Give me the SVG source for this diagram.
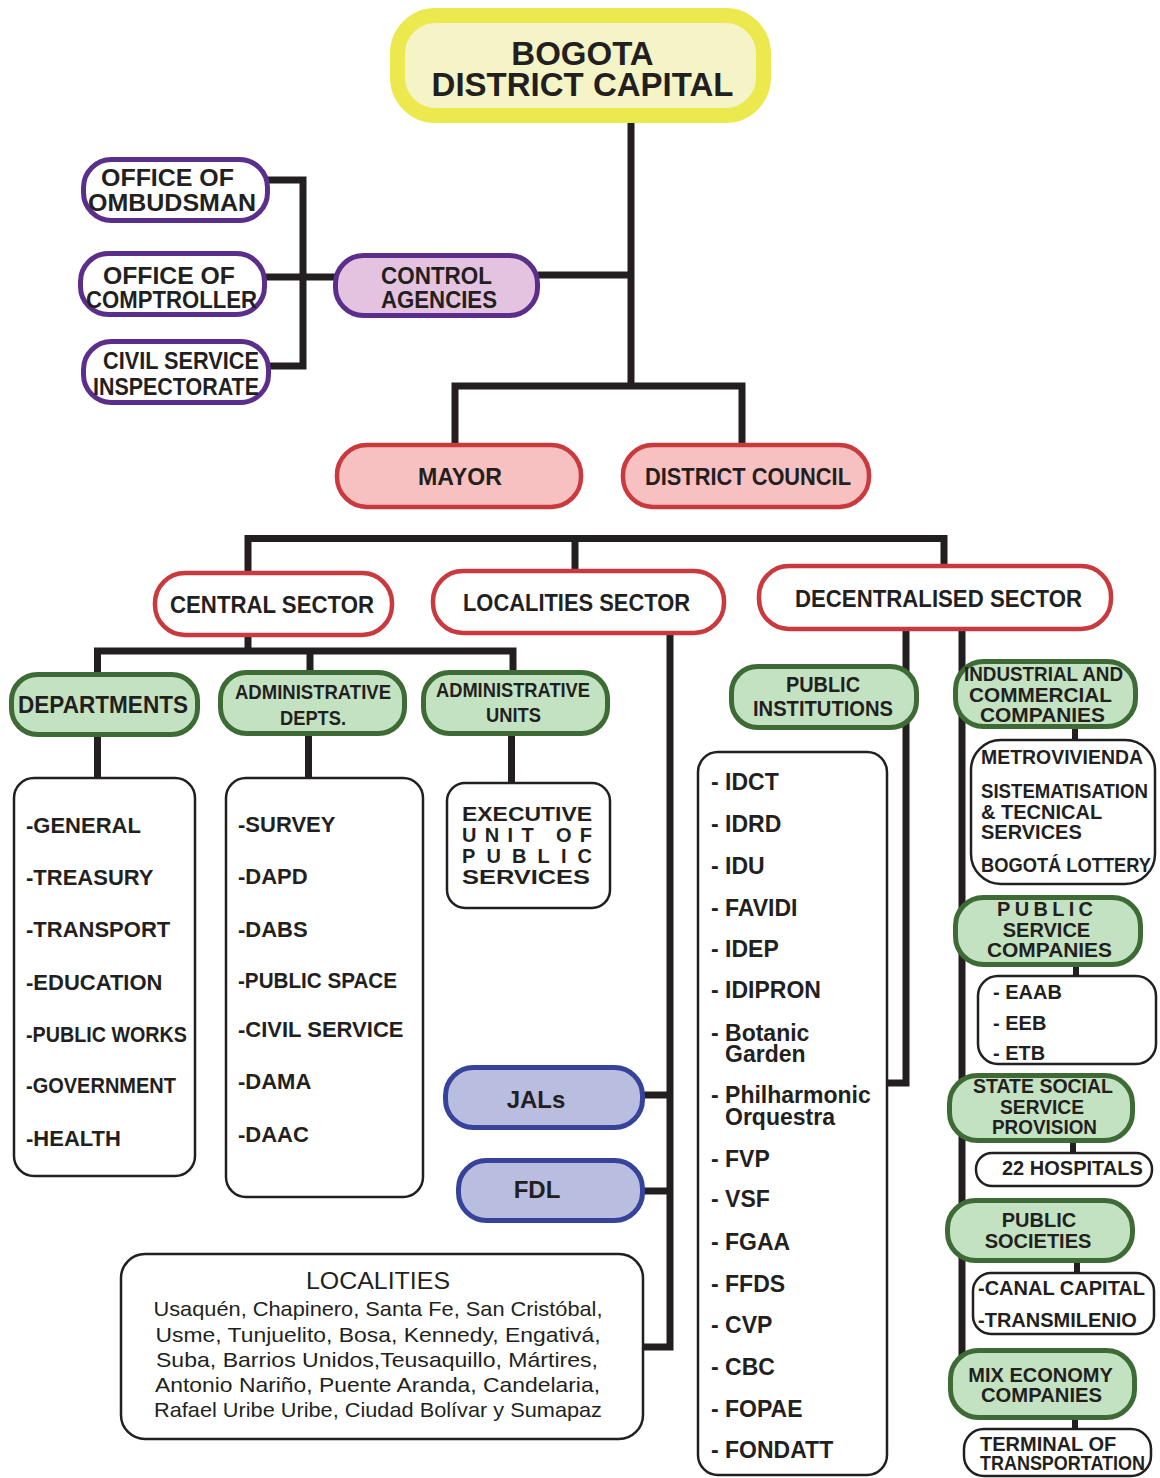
<svg xmlns="http://www.w3.org/2000/svg" width="1160" height="1478" viewBox="0 0 1160 1478">
<style>
text{font-family:"Liberation Sans",Arial,sans-serif;font-weight:bold;fill:#231f20}
.c{text-anchor:middle}
.f24{font-size:24px}
.f22{font-size:22px}
.f20{font-size:20px}
.f23{font-size:23px}
.reg{font-weight:normal}
.ln{fill:none;stroke:#231f20;stroke-width:7;stroke-linejoin:miter}
.st{fill:none;stroke:#231f20;stroke-width:6}
.yel{fill:#f4f4c6;stroke:#ece94e;stroke-width:15}
.pur{fill:#ffffff;stroke:#5b2e8c;stroke-width:5}
.purf{fill:#e3c3df;stroke:#5b2e8c;stroke-width:5}
.red{fill:#f8c1c1;stroke:#c9393e;stroke-width:4.5}
.redw{fill:#ffffff;stroke:#c9393e;stroke-width:4.5}
.grn{fill:#c3e2c1;stroke:#3e6a36;stroke-width:5}
.blu{fill:#b9bde0;stroke:#37439b;stroke-width:5}
.lst{fill:#ffffff;stroke:#231f20;stroke-width:2.5}
</style>

<g id="connectors">
  <path class="ln" d="M631 120 V386"/>
  <path class="ln" d="M455 447 V386 H742 V447"/>
  <path class="ln" d="M538 275 H631"/>
  <path class="ln" d="M267 180 H303 V366 H268"/>
  <path class="ln" d="M264 277 H338"/>
  <path class="ln" d="M248 575 V538.5 H944 V568"/>
  <path class="ln" d="M575 538.5 V573"/>
  <path class="ln" d="M248 635 V651"/>
  <path class="ln" d="M97.5 676 V651 H513 V674"/>
  <path class="ln" d="M310 651 V674"/>
  <path class="ln" d="M97.5 735 V779"/>
  <path class="ln" d="M308.5 734 V779"/>
  <path class="ln" d="M511.5 734 V784"/>
  <path class="ln" d="M670 633 V1347 H641"/>
  <path class="ln" d="M641 1095 H670"/>
  <path class="ln" d="M641 1191 H670"/>
  <path class="ln" d="M906 629 V1083 H886"/>
  <path class="ln" d="M962 629 V1385"/>
  <path class="st" d="M1075 727 V741"/>
  <path class="st" d="M1076 965 V977"/>
  <path class="st" d="M1073 1141 V1154"/>
  <path class="st" d="M1077 1261 V1274"/>
  <path class="st" d="M1075 1418 V1430"/>
</g>

<g id="bogota">
  <rect class="yel" x="397.5" y="15.5" width="366" height="100" rx="38"/>
  <text class="c" x="582.5" y="65" font-size="33">BOGOTA</text>
  <text class="c" x="582.5" y="96" font-size="33">DISTRICT CAPITAL</text>
</g>

<g id="ombudsman">
  <rect class="pur" x="83.5" y="159.5" width="184" height="61" rx="28"/>
  <text class="c f24" x="167.5" y="186" textLength="133" lengthAdjust="spacingAndGlyphs">OFFICE OF</text>
  <text class="c f24" x="172" y="211" textLength="168" lengthAdjust="spacingAndGlyphs">OMBUDSMAN</text>
</g>
<g id="comptroller">
  <rect class="pur" x="80.5" y="253.5" width="184" height="61" rx="28"/>
  <text class="c f24" x="169" y="284" textLength="132" lengthAdjust="spacingAndGlyphs">OFFICE OF</text>
  <text class="c f24" x="171.5" y="308" textLength="171" lengthAdjust="spacingAndGlyphs">COMPTROLLER</text>
</g>
<g id="civil-service">
  <rect class="pur" x="83.5" y="341.5" width="185" height="61" rx="28"/>
  <text class="c f24" x="181" y="369" textLength="156" lengthAdjust="spacingAndGlyphs">CIVIL SERVICE</text>
  <text class="c f24" x="176" y="395" textLength="166" lengthAdjust="spacingAndGlyphs">INSPECTORATE</text>
</g>
<g id="control-agencies">
  <rect class="purf" x="335.5" y="255.5" width="202" height="60" rx="28"/>
  <text class="c f24" x="436.5" y="284" textLength="111" lengthAdjust="spacingAndGlyphs">CONTROL</text>
  <text class="c f24" x="439" y="308" textLength="116" lengthAdjust="spacingAndGlyphs">AGENCIES</text>
</g>

<g id="mayor">
  <rect class="red" x="337" y="445" width="244" height="62" rx="30"/>
  <text class="c f24" x="460" y="485" textLength="84" lengthAdjust="spacingAndGlyphs">MAYOR</text>
</g>
<g id="district-council">
  <rect class="red" x="623" y="445" width="246" height="62" rx="30"/>
  <text class="c f24" x="748" y="485" textLength="206" lengthAdjust="spacingAndGlyphs">DISTRICT COUNCIL</text>
</g>

<g id="central-sector">
  <rect class="redw" x="155" y="573" width="237" height="62" rx="30"/>
  <text class="c f24" x="272" y="613" textLength="204" lengthAdjust="spacingAndGlyphs">CENTRAL SECTOR</text>
</g>
<g id="localities-sector">
  <rect class="redw" x="433" y="571" width="291" height="62" rx="30"/>
  <text class="c f24" x="576.5" y="611" textLength="227" lengthAdjust="spacingAndGlyphs">LOCALITIES SECTOR</text>
</g>
<g id="decentralised-sector">
  <rect class="redw" x="759" y="566" width="352" height="63" rx="30"/>
  <text class="c f24" x="938.5" y="607" textLength="287" lengthAdjust="spacingAndGlyphs">DECENTRALISED SECTOR</text>
</g>

<g id="departments">
  <rect class="grn" x="11.5" y="674.5" width="186" height="60" rx="26"/>
  <text class="c f24" x="103" y="713" textLength="170" lengthAdjust="spacingAndGlyphs">DEPARTMENTS</text>
</g>
<g id="admin-depts">
  <rect class="grn" x="220.5" y="672.5" width="184" height="61" rx="26"/>
  <text class="c f20" x="313" y="699" textLength="156" lengthAdjust="spacingAndGlyphs">ADMINISTRATIVE</text>
  <text class="c f20" x="313" y="725" textLength="66" lengthAdjust="spacingAndGlyphs">DEPTS.</text>
</g>
<g id="admin-units">
  <rect class="grn" x="423.5" y="672.5" width="184" height="61" rx="26"/>
  <text class="c f20" x="513" y="697" textLength="154" lengthAdjust="spacingAndGlyphs">ADMINISTRATIVE</text>
  <text class="c f20" x="513.5" y="722" textLength="55" lengthAdjust="spacingAndGlyphs">UNITS</text>
</g>

<g id="departments-list">
  <rect class="lst" x="14" y="778" width="181" height="398" rx="20"/>
  <text class="f22" x="26" y="833">-GENERAL</text>
  <text class="f22" x="26" y="885">-TREASURY</text>
  <text class="f22" x="26" y="937">-TRANSPORT</text>
  <text class="f22" x="26" y="990">-EDUCATION</text>
  <text class="f22" x="26" y="1042" textLength="161" lengthAdjust="spacingAndGlyphs">-PUBLIC WORKS</text>
  <text class="f22" x="26" y="1093" textLength="150" lengthAdjust="spacingAndGlyphs">-GOVERNMENT</text>
  <text class="f22" x="26" y="1146">-HEALTH</text>
</g>
<g id="admin-depts-list">
  <rect class="lst" x="226" y="778" width="197" height="419" rx="20"/>
  <text class="f22" x="238" y="832">-SURVEY</text>
  <text class="f22" x="238" y="884">-DAPD</text>
  <text class="f22" x="238" y="937">-DABS</text>
  <text class="f22" x="238" y="988" textLength="159" lengthAdjust="spacingAndGlyphs">-PUBLIC SPACE</text>
  <text class="f22" x="238" y="1037">-CIVIL SERVICE</text>
  <text class="f22" x="238" y="1089">-DAMA</text>
  <text class="f22" x="238" y="1142">-DAAC</text>
</g>
<g id="executive-unit">
  <rect class="lst" x="447" y="783" width="163" height="125" rx="18"/>
  <text font-size="20" x="462" y="821" textLength="130" lengthAdjust="spacingAndGlyphs">EXECUTIVE</text>
  <text font-size="20" x="462" y="842" textLength="130" lengthAdjust="spacing">UNIT OF</text>
  <text font-size="20" x="462" y="863" textLength="130" lengthAdjust="spacing">PUBLIC</text>
  <text font-size="20" x="462" y="884" textLength="128" lengthAdjust="spacingAndGlyphs">SERVICES</text>
</g>

<g id="jals">
  <rect class="blu" x="445.5" y="1067.5" width="197" height="60" rx="28"/>
  <text class="c f24" x="536" y="1108">JALs</text>
</g>
<g id="fdl">
  <rect class="blu" x="458.5" y="1160.5" width="184" height="60" rx="28"/>
  <text class="c f24" x="537" y="1198">FDL</text>
</g>
<g id="localities-list">
  <rect class="lst" x="121" y="1254" width="522" height="185" rx="24"/>
  <text class="c reg" font-size="24" x="378" y="1289" textLength="144" lengthAdjust="spacingAndGlyphs">LOCALITIES</text>
  <text class="c reg" font-size="21" x="378" y="1316" textLength="449" lengthAdjust="spacingAndGlyphs">Usaquén, Chapinero, Santa Fe, San Cristóbal,</text>
  <text class="c reg" font-size="21" x="378" y="1342" textLength="445" lengthAdjust="spacingAndGlyphs">Usme, Tunjuelito, Bosa, Kennedy, Engativá,</text>
  <text class="c reg" font-size="21" x="377" y="1367" textLength="442" lengthAdjust="spacingAndGlyphs">Suba, Barrios Unidos,Teusaquillo, Mártires,</text>
  <text class="c reg" font-size="21" x="377.5" y="1392" textLength="445" lengthAdjust="spacingAndGlyphs">Antonio Nariño, Puente Aranda, Candelaria,</text>
  <text class="c reg" font-size="21" x="378" y="1417" textLength="448" lengthAdjust="spacingAndGlyphs">Rafael Uribe Uribe, Ciudad Bolívar y Sumapaz</text>
</g>

<g id="public-institutions">
  <rect class="grn" x="731.5" y="666.5" width="185" height="61" rx="26"/>
  <text class="c f22" x="823" y="692" textLength="74" lengthAdjust="spacingAndGlyphs">PUBLIC</text>
  <text class="c f22" x="823" y="716" textLength="140" lengthAdjust="spacingAndGlyphs">INSTITUTIONS</text>
</g>
<g id="public-institutions-list">
  <rect class="lst" x="698" y="752" width="189" height="723" rx="20"/>
  <text class="f23" x="711" y="790">- IDCT</text>
  <text class="f23" x="711" y="832">- IDRD</text>
  <text class="f23" x="711" y="874">- IDU</text>
  <text class="f23" x="711" y="916">- FAVIDI</text>
  <text class="f23" x="711" y="957">- IDEP</text>
  <text class="f23" x="711" y="998">- IDIPRON</text>
  <text class="f23" x="711" y="1041">- Botanic</text>
  <text class="f23" x="725" y="1062">Garden</text>
  <text class="f23" x="711" y="1103">- Philharmonic</text>
  <text class="f23" x="725" y="1125">Orquestra</text>
  <text class="f23" x="711" y="1167">- FVP</text>
  <text class="f23" x="711" y="1207">- VSF</text>
  <text class="f23" x="711" y="1250">- FGAA</text>
  <text class="f23" x="711" y="1292">- FFDS</text>
  <text class="f23" x="711" y="1333">- CVP</text>
  <text class="f23" x="711" y="1375">- CBC</text>
  <text class="f23" x="711" y="1417">- FOPAE</text>
  <text class="f23" x="711" y="1458">- FONDATT</text>
</g>

<g id="industrial-commercial">
  <rect class="grn" x="955.5" y="661.5" width="180" height="65" rx="28"/>
  <text class="c f20" x="1043.5" y="681" textLength="159" lengthAdjust="spacingAndGlyphs">INDUSTRIAL AND</text>
  <text class="c f20" x="1040.5" y="702" textLength="143" lengthAdjust="spacingAndGlyphs">COMMERCIAL</text>
  <text class="c f20" x="1042.5" y="722" textLength="125" lengthAdjust="spacingAndGlyphs">COMPANIES</text>
</g>
<g id="industrial-list">
  <rect class="lst" x="971" y="740" width="184" height="144" rx="30"/>
  <text class="f20" x="981" y="764" textLength="162" lengthAdjust="spacingAndGlyphs">METROVIVIENDA</text>
  <text class="f20" x="981" y="798" textLength="167" lengthAdjust="spacingAndGlyphs">SISTEMATISATION</text>
  <text class="f20" x="981" y="819">&amp; TECNICAL</text>
  <text class="f20" x="981" y="839">SERVICES</text>
  <text class="f20" x="981" y="872" textLength="170" lengthAdjust="spacingAndGlyphs">BOGOTÁ LOTTERY</text>
</g>
<g id="public-service-companies">
  <rect class="grn" x="955.5" y="897.5" width="185" height="67" rx="28"/>
  <text class="c f20" x="1045" y="916" textLength="96" lengthAdjust="spacing">PUBLIC</text>
  <text class="c f20" x="1046.5" y="937">SERVICE</text>
  <text class="c f20" x="1049.5" y="957" textLength="125" lengthAdjust="spacingAndGlyphs">COMPANIES</text>
</g>
<g id="public-service-list">
  <rect class="lst" x="978" y="976" width="178" height="88" rx="20"/>
  <text class="f20" x="993" y="999">- EAAB</text>
  <text class="f20" x="993" y="1030">- EEB</text>
  <text class="f20" x="993" y="1060">- ETB</text>
</g>
<g id="state-social">
  <rect class="grn" x="949.5" y="1075.5" width="183" height="65" rx="28"/>
  <text class="c f20" x="1043" y="1093" textLength="140" lengthAdjust="spacingAndGlyphs">STATE SOCIAL</text>
  <text class="c f20" x="1042" y="1114" textLength="84" lengthAdjust="spacingAndGlyphs">SERVICE</text>
  <text class="c f20" x="1044.5" y="1134" textLength="105" lengthAdjust="spacingAndGlyphs">PROVISION</text>
</g>
<g id="hospitals">
  <rect class="lst" x="976" y="1153" width="176" height="33" rx="16"/>
  <text class="f20" x="1002" y="1175">22 HOSPITALS</text>
</g>
<g id="public-societies">
  <rect class="grn" x="947.5" y="1200.5" width="185" height="60" rx="28"/>
  <text class="c f20" x="1039" y="1227">PUBLIC</text>
  <text class="c f20" x="1038" y="1248">SOCIETIES</text>
</g>
<g id="public-societies-list">
  <rect class="lst" x="973" y="1273" width="181" height="61" rx="18"/>
  <text class="f20" x="978" y="1295">-CANAL CAPITAL</text>
  <text class="f20" x="978" y="1327">-TRANSMILENIO</text>
</g>
<g id="mix-economy">
  <rect class="grn" x="950.5" y="1350.5" width="184" height="67" rx="28"/>
  <text class="c f20" x="1040.5" y="1382">MIX ECONOMY</text>
  <text class="c f20" x="1041.5" y="1402" textLength="121" lengthAdjust="spacingAndGlyphs">COMPANIES</text>
</g>
<g id="terminal">
  <rect class="lst" x="964" y="1429" width="187" height="47" rx="20"/>
  <text class="f20" x="980" y="1451">TERMINAL OF</text>
  <text class="f20" x="980" y="1470" textLength="165" lengthAdjust="spacingAndGlyphs">TRANSPORTATION</text>
</g>
</svg>
